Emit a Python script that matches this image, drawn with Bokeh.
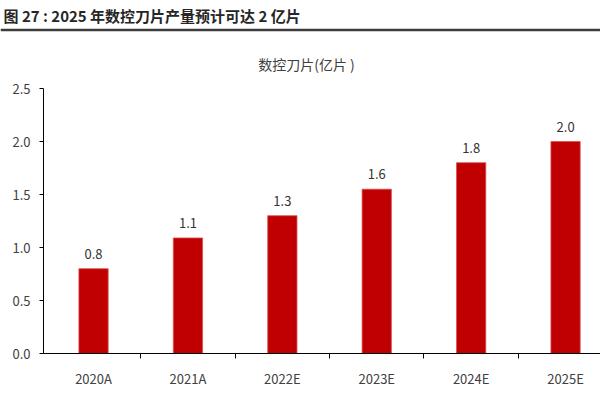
from bokeh.plotting import figure
from bokeh.layouts import column
from bokeh.models import Range1d, FixedTicker, SingleIntervalTicker, NumeralTickFormatter, ColumnDataSource
from bokeh.core.properties import value
from bokeh.embed import file_html
from bokeh.resources import INLINE

# ---- data ----
categories = ["2020A", "2021A", "2022E", "2023E", "2024E", "2025E"]
production = [0.8, 1.09, 1.3, 1.55, 1.8, 2.0]
value_labels = ["0.8", "1.1", "1.3", "1.6", "1.8", "2.0"]
title_text = "图 27 : 2025 年数控刀片产量预计可达 2 亿片"
subtitle_text = "数控刀片(亿片 )"

FONT = "Noto Sans CJK SC"
W = 600
HH = 80

# ---- header (title + rule + series name) ----
hdr = figure(width=W, height=HH, x_range=Range1d(0, W), y_range=Range1d(HH, 0),
             x_axis_type=None, y_axis_type=None, toolbar_location=None,
             output_backend="svg", min_border=0, outline_line_color=None)
hdr.frame_align = False
hdr.grid.visible = False
hdr.text(x=[3], y=[15], text=[title_text], text_font=value(FONT), text_font_size="15px",
         text_font_style="bold", text_color="#262626", text_baseline="middle", text_align="left")
hdr.segment(x0=[0], y0=[29.5], x1=[W], y1=[29.5], line_color="#3c3c3c", line_width=2.5)
hdr.text(x=[306], y=[63], text=[subtitle_text], text_font=value(FONT), text_font_size="14px",
         text_color="#404040", text_baseline="middle", text_align="center")

# ---- main bar chart ----
n = len(categories)
xs = [i + 0.5 for i in range(n)]
src = ColumnDataSource(dict(x=xs, v=production, lab=value_labels))

p = figure(width=W, height=320, x_range=Range1d(-0.03, 5.87), y_range=Range1d(0, 2.5),
           toolbar_location=None, output_backend="svg",
           min_border_left=43, min_border_right=0, min_border_top=8, min_border_bottom=47,
           outline_line_color=None)
p.frame_align = False
p.grid.visible = False
p.vbar(x="x", top="v", width=0.31, source=src, fill_color="#C00000", line_color="#D65050", line_width=0.8)
p.text(x="x", y="v", text="lab", source=src, text_font=value(FONT), text_font_size="13px",
       text_color="#333333", text_align="center", text_baseline="alphabetic", y_offset=-15)

xa = p.xaxis[0]
xa.ticker = FixedTicker(ticks=xs, minor_ticks=list(range(1, n)))
xa.major_label_overrides = {x: c for x, c in zip(xs, categories)}
xa.major_tick_line_color = None
xa.major_tick_out = 5
xa.major_tick_in = 0
xa.minor_tick_line_color = "#000000"
xa.minor_tick_out = 5
xa.minor_tick_in = 0
xa.axis_line_color = "#000000"
xa.axis_line_width = 1.2
xa.major_label_standoff = 10
xa.major_label_text_font = FONT
xa.major_label_text_font_size = "13px"
xa.major_label_text_color = "#404040"

ya = p.yaxis[0]
ya.ticker = SingleIntervalTicker(interval=0.5)
ya.formatter = NumeralTickFormatter(format="0.0")
ya.minor_tick_line_color = None
ya.major_tick_out = 4
ya.major_tick_in = 0
ya.major_tick_line_color = "#000000"
ya.axis_line_color = "#000000"
ya.major_label_standoff = 9
ya.major_label_text_font = FONT
ya.major_label_text_font_size = "13px"
ya.major_label_text_color = "#404040"

layout = column(hdr, p, spacing=0)
open("out.html", "w").write(file_html(layout, INLINE))
